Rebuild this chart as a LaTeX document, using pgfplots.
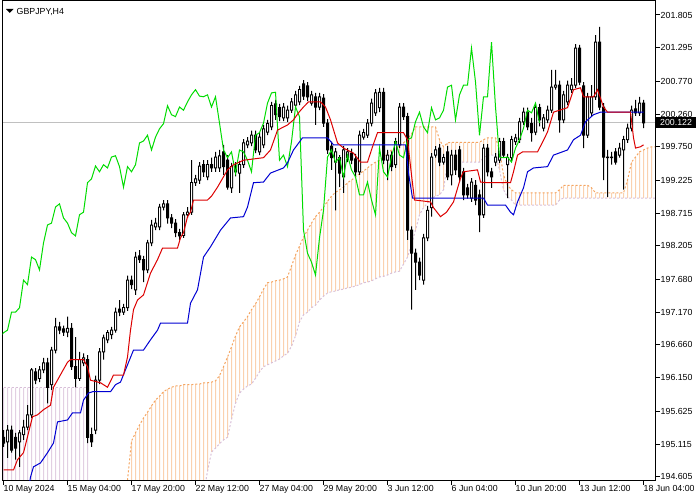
\documentclass[border=0pt]{standalone}
\usepackage{fontspec}
\setmainfont{Liberation Sans}
\usepackage{pgfplots}
\usepackage{pgfplotstable}
\pgfplotsset{compat=1.18}

\definecolor{tenkan}{RGB}{220,0,0}
\definecolor{kijun}{RGB}{0,0,210}
\definecolor{chikou}{RGB}{0,220,0}
\definecolor{sandy}{RGB}{244,164,96}
\definecolor{thistle}{RGB}{216,191,216}
\definecolor{bidline}{RGB}{192,192,192}

% GBPJPY H4 bars, index 0 = first bar on screen
\pgfplotstableread{
i o h l c
0 195.22 195.33 195.07 195.13
1 195.15 195.41 194.90 195.33
2 195.33 195.40 194.98 195.02
3 195.22 195.29 194.87 195.05
4 195.15 195.33 194.76 195.29
5 195.26 195.49 195.18 195.38
6 195.38 195.72 195.33 195.57
7 195.57 196.30 195.52 196.27
8 196.24 196.30 196.05 196.11
9 196.14 196.33 196.08 196.27
10 196.27 196.46 196.22 196.38
11 196.38 196.46 195.75 196.00
12 196.04 196.63 195.96 196.58
13 196.58 197.08 196.53 196.94
14 196.94 197.02 196.83 196.89
15 196.91 196.96 196.80 196.86
16 196.86 197.10 196.78 196.92
17 196.92 197.00 196.27 196.32
18 196.32 196.78 196.00 196.14
19 196.14 196.55 196.10 196.43
20 196.38 196.53 196.33 196.46
21 196.43 196.50 195.13 195.22
22 195.26 195.37 195.07 195.15
23 195.33 196.18 195.27 196.11
24 196.11 196.61 196.05 196.55
25 196.55 196.82 196.43 196.77
26 196.74 196.89 196.69 196.85
27 196.82 196.94 196.75 196.89
28 196.89 197.24 196.85 197.17
29 197.22 197.36 197.11 197.17
30 197.17 197.30 197.13 197.24
31 197.24 197.74 197.19 197.67
32 197.67 197.74 197.53 197.60
33 197.52 198.11 197.44 198.03
34 198.05 198.14 197.94 197.99
35 197.99 198.05 197.64 197.83
36 197.83 198.30 197.78 198.25
37 198.25 198.61 198.20 198.53
38 198.50 198.64 198.45 198.56
39 198.50 198.86 198.45 198.81
40 198.81 198.92 198.76 198.86
41 198.86 198.92 198.55 198.64
42 198.64 198.70 198.48 198.56
43 198.56 198.62 198.34 198.41
44 198.41 198.47 198.30 198.36
45 198.37 198.73 198.33 198.69
46 198.69 198.81 198.64 198.73
47 198.73 199.54 198.69 199.19
48 199.19 199.31 199.14 199.25
49 199.23 199.51 199.17 199.45
50 199.47 199.54 199.28 199.36
51 199.28 199.54 199.23 199.47
52 199.47 199.58 199.36 199.42
53 199.42 199.67 199.36 199.59
54 199.42 199.70 199.36 199.61
55 199.67 199.78 199.31 199.44
56 199.54 199.62 199.08 199.12
57 199.11 199.50 199.03 199.44
58 199.45 199.51 199.29 199.36
59 199.34 199.53 199.03 199.47
60 199.47 199.87 199.42 199.81
61 199.78 199.90 199.73 199.84
62 199.81 200.00 199.76 199.93
63 199.93 200.00 199.65 199.70
64 199.67 199.97 199.62 199.90
65 199.78 200.09 199.73 200.03
66 199.98 200.17 199.93 200.11
67 200.06 200.45 200.01 200.39
68 200.42 200.48 200.17 200.25
69 200.36 200.42 200.15 200.22
70 200.20 200.43 200.15 200.37
71 200.20 200.39 200.14 200.32
72 200.32 200.51 200.28 200.45
73 200.40 200.62 200.36 200.56
74 200.45 200.70 200.40 200.64
75 200.73 200.79 200.48 200.54
76 200.70 200.76 200.46 200.53
77 200.43 200.62 200.39 200.56
78 200.53 200.59 200.09 200.37
79 200.37 200.59 200.32 200.53
80 200.51 200.57 200.06 200.12
81 200.12 200.18 199.64 199.70
82 199.76 199.83 199.39 199.58
83 199.51 199.73 198.76 199.67
84 199.58 199.62 199.12 199.34
85 199.28 199.76 199.03 199.70
86 199.58 199.73 199.51 199.67
87 199.65 199.72 199.48 199.54
88 199.56 199.64 199.29 199.36
89 199.36 200.00 199.31 199.93
90 199.90 200.03 199.86 199.97
91 199.93 200.18 199.89 200.12
92 200.12 200.50 200.07 200.43
93 200.28 200.65 200.23 200.59
94 200.36 200.67 200.29 200.60
95 200.60 200.67 199.48 199.54
96 199.54 199.70 199.23 199.62
97 199.62 199.68 199.37 199.44
98 199.47 199.89 199.42 199.83
99 199.78 200.43 199.73 200.37
100 200.37 200.43 200.17 200.22
101 200.22 200.28 198.30 198.45
102 198.45 198.51 197.21 198.09
103 198.09 198.16 197.52 197.95
104 197.95 198.02 197.67 197.75
105 197.67 198.39 197.60 198.33
106 198.33 198.83 198.28 198.76
107 198.80 199.65 198.66 199.59
108 199.62 199.76 199.58 199.70
109 199.73 199.79 199.45 199.51
110 199.51 199.64 199.47 199.58
111 199.67 199.76 199.23 199.28
112 199.31 199.70 199.15 199.62
113 199.62 199.70 199.31 199.39
114 199.70 199.76 199.20 199.28
115 199.36 199.42 198.92 199.00
116 199.11 199.17 198.94 199.00
117 198.95 199.26 198.89 199.20
118 199.15 199.23 198.84 198.92
119 199.00 199.08 198.42 198.69
120 198.69 199.79 198.64 199.73
121 199.73 199.79 199.29 199.36
122 199.36 199.42 199.11 199.28
123 199.51 199.65 199.45 199.59
124 199.54 199.89 199.50 199.83
125 199.83 199.89 199.58 199.62
126 199.47 199.64 198.95 199.58
127 199.58 199.92 199.53 199.86
128 199.83 199.95 199.78 199.89
129 199.86 200.20 199.81 200.14
130 200.14 200.36 200.09 200.29
131 200.29 200.36 200.01 200.06
132 200.11 200.20 199.83 199.97
133 199.98 200.42 199.93 200.36
134 200.36 200.42 200.07 200.17
135 200.04 200.26 199.99 200.20
136 200.17 200.39 200.12 200.32
137 200.32 200.95 200.28 200.68
138 200.68 200.95 200.64 200.71
139 200.71 200.78 199.97 200.17
140 200.17 200.62 200.12 200.56
141 200.45 200.78 200.40 200.71
142 200.64 200.82 200.59 200.71
143 200.71 201.35 200.67 201.29
144 201.29 201.34 200.71 200.76
145 200.70 200.76 199.73 199.93
146 199.93 200.59 199.89 200.53
147 200.28 200.71 200.23 200.53
148 200.53 201.49 200.48 201.38
149 201.38 201.62 200.32 200.37
150 200.37 200.43 199.23 199.59
151 199.59 199.70 198.97 199.58
152 199.58 199.67 199.47 199.59
153 199.67 199.73 199.47 199.51
154 199.62 199.81 199.58 199.73
155 199.70 199.92 199.08 199.86
156 199.86 200.11 199.81 200.04
157 200.04 200.39 199.99 200.32
158 200.34 200.48 200.23 200.28
159 200.28 200.53 200.23 200.43
160 200.43 200.48 200.04 200.122
}\candles

% Kumo where span A is above span B (a = span A, b = span B)
\pgfplotstableread{
i a b
31 194.55 194.32
32 195.16 194.32
33 195.29 194.32
34 195.41 194.32
35 195.52 194.32
36 195.61 194.32
37 195.71 194.32
38 195.80 194.32
39 195.86 194.32
40 195.93 194.32
41 195.97 194.32
42 196.00 194.32
43 196.02 194.32
44 196.02 194.32
45 196.04 194.32
46 196.04 194.32
47 196.04 194.32
48 196.05 194.32
49 196.05 194.32
50 196.07 194.32
51 196.07 194.69
52 196.08 194.99
53 196.10 195.05
54 196.18 195.12
55 196.32 195.18
56 196.47 195.22
57 196.63 195.50
58 196.80 195.75
59 196.94 195.91
60 197.02 195.97
61 197.10 196.02
62 197.21 196.05
63 197.30 196.14
64 197.41 196.24
65 197.53 196.32
66 197.63 196.35
67 197.64 196.38
68 197.66 196.41
69 197.67 196.44
70 197.69 196.49
71 197.72 196.53
72 197.89 196.64
73 198.06 196.80
74 198.20 197.02
75 198.34 197.13
76 198.45 197.17
77 198.56 197.24
78 198.66 197.28
79 198.73 197.36
80 198.81 197.42
81 198.90 197.47
82 198.98 197.49
83 199.04 197.50
84 199.08 197.52
85 199.12 197.53
86 199.19 197.55
87 199.23 197.56
88 199.28 197.58
89 199.33 197.60
90 199.37 197.63
91 199.42 197.64
92 199.47 197.66
93 199.51 197.69
94 199.54 197.72
95 199.59 197.73
96 199.65 197.75
97 199.70 197.78
98 199.73 197.80
99 199.76 197.81
100 199.81 197.92
101 199.87 198.03
102 199.95 198.23
103 200.06 198.45
104 200.06 198.69
105 200.06 198.80
106 200.06 198.87
107 200.06 198.94
108 200.06 198.98
109 199.86 199.00
110 199.75 199.08
111 199.81 199.51
112 199.82 199.51
113 199.82 199.51
114 199.82 199.51
115 199.82 199.51
116 199.82 199.51
117 199.82 199.51
118 199.82 199.51
119 199.82 199.51
120 199.86 199.58
121 199.89 199.62
122 199.89 199.62
123 199.89 199.62
124 199.70 199.39
125 199.31 199.08
126 199.15 198.97
127 199.08 198.92
128 199.03 198.84
129 199.03 198.84
130 199.03 198.84
131 199.03 198.84
132 199.03 198.84
133 199.03 198.84
134 199.03 198.84
135 199.03 198.84
136 199.03 198.84
137 199.03 198.84
138 199.03 198.84
139 199.08 198.92
140 199.15 198.95
141 199.15 198.95
142 199.15 198.95
143 199.15 198.95
144 199.15 198.95
145 199.15 198.95
146 199.15 198.95
147 199.11 198.95
148 199.03 198.95
149 199.03 198.95
150 199.03 198.95
151 199.03 198.95
152 199.03 198.95
153 199.03 198.95
154 199.03 198.95
155 199.03 198.95
156 199.23 198.95
157 199.51 198.95
158 199.59 198.95
159 199.67 198.95
160 199.70 198.95
161 199.73 198.95
162 199.75 198.95
163 199.75 198.95
164 199.75 198.95
}\kumoup

% Kumo where span B is above span A
\pgfplotstableread{
i a b
-1 194.30 195.99
0 194.30 195.99
1 194.30 195.99
2 194.30 195.99
3 194.30 195.99
4 194.30 195.99
5 194.30 195.99
6 194.30 195.99
7 194.30 195.99
8 194.30 195.99
9 194.30 195.99
10 194.30 195.99
11 194.30 195.99
12 194.30 195.99
13 194.30 195.99
14 194.30 195.99
15 194.30 195.99
16 194.30 195.99
17 194.30 195.99
18 194.30 195.99
19 194.30 195.99
20 194.30 195.99
21 194.30 195.99
}\kumodn

\pgfplotstableread{
i p
0 194.71
2.5 194.71
3.5 194.87
5 194.98
6.25 195.29
7.25 195.54
8.5 195.57
10 195.65
11.75 195.72
12.5 196.00
13.75 196.14
16 196.39
16.75 196.43
20 196.43
21 196.32
21.75 196.11
24.25 196.07
26 196.00
27.5 196.19
30 196.19
31 196.47
31.75 196.89
32.5 197.21
33.5 197.36
35 197.44
36.75 197.78
38.5 197.99
39.75 198.17
43.5 198.17
44.25 198.33
45 198.41
46 198.66
46.75 198.73
47.5 198.92
51 198.92
52 198.98
53.5 199.12
56 199.39
57.5 199.47
60 199.54
65 199.58
66.75 199.70
68.5 200.01
71 200.09
72.5 200.17
73.75 200.28
75 200.37
76.25 200.45
79.25 200.45
80.5 200.37
81.75 200.17
83.5 199.81
85 199.73
87.5 199.65
89.25 199.51
91 199.51
92.25 199.75
93.5 199.97
100 199.97
101 199.86
102 199.31
102.75 198.92
106.75 198.89
107.5 198.80
109.25 198.66
110.75 198.73
112.5 198.89
114.25 199.26
115 199.36
118.5 199.39
119.25 199.20
121 199.19
126.75 199.19
127.5 199.36
128.5 199.62
129.75 199.67
133.5 199.67
134.75 199.82
136 199.98
137.5 200.29
141 200.36
142.5 200.64
144.25 200.67
145 200.53
147.5 200.53
148.5 200.64
150 200.37
151 200.29
156.75 200.29
157.5 199.89
158 199.73
159.25 199.75
160 199.78
}\tenkan

\pgfplotstableread{
i p
6 194.32
6.75 194.60
7.5 194.76
9.25 194.82
11 194.98
12.5 195.13
13.5 195.46
16 195.49
17.25 195.60
19.25 195.60
20 195.80
21.25 195.91
22.25 195.93
26.75 195.93
28 196.04
29.25 196.08
31 196.35
32.5 196.58
35 196.58
36.75 196.74
38.5 196.89
39.25 197.00
46 197.00
46.75 197.31
48.5 197.52
50 198.03
51.75 198.19
54.25 198.45
56.75 198.64
60 198.66
61 198.81
62.5 199.19
65 199.20
66.75 199.34
70 199.42
71 199.50
72.5 199.70
74.75 199.89
81 199.89
82.5 199.78
100.5 199.78
101.25 199.34
102.25 198.95
120 198.95
121 198.84
125.5 198.84
126.75 198.73
127.5 198.69
128.5 198.89
130 199.11
131 199.36
132.5 199.42
136 199.44
137.5 199.62
141 199.70
142.5 199.86
144.25 199.93
145.5 200.14
147.5 200.25
149.25 200.29
160 200.29
}\kijun

\pgfplotsset{
  chartbox/.style={scale only axis, width=653pt, height=480pt,
    xmin=-0.25, xmax=163, ymin=194.546, ymax=202.031},
  layer/.style={chartbox, hide axis, ybar stacked, bar width=#1},
}

\begin{document}
\begin{tikzpicture}
% kumo columns: invisible base up to the lower span, coloured part up to the upper span
\begin{axis}[layer=1pt]
\addplot[draw=none, fill=none] table[x=i, y=b] {\kumoup};
\addplot[draw=none, fill=sandy!50] table[x=i, y expr=\thisrow{a}-\thisrow{b}] {\kumoup};
\end{axis}
\begin{axis}[layer=1pt]
\addplot[draw=none, fill=none] table[x=i, y=a] {\kumodn};
\addplot[draw=none, fill=thistle!75] table[x=i, y expr=\thisrow{b}-\thisrow{a}] {\kumodn};
\end{axis}
% span lines and bid line
\begin{axis}[chartbox, hide axis]
\addplot[sandy, line width=1pt, dash pattern=on 2pt off 2pt] table[x=i, y=a] {\kumoup};
\addplot[thistle, line width=1pt, dash pattern=on 2pt off 2pt] table[x=i, y=b] {\kumoup};
\addplot[thistle, line width=1pt, dash pattern=on 2pt off 2pt] table[x=i, y=b] {\kumodn};
\addplot[bidline, line width=1pt] coordinates {(-1,200.122) (165,200.122)};
\end{axis}
% candle wicks
\begin{axis}[layer=1pt]
\addplot[draw=none, fill=none] table[x=i, y=l] {\candles};
\addplot[draw=none, fill=black] table[x=i, y expr=\thisrow{h}-\thisrow{l}] {\candles};
\end{axis}
% candle bodies
\begin{axis}[layer=3pt]
\addplot[draw=none, fill=none] table[x=i, y expr={min(\thisrow{o},\thisrow{c})-0.0078}] {\candles};
\addplot[draw=none, fill=black] table[x=i, y expr={abs(\thisrow{o}-\thisrow{c})+0.0156}] {\candles};
\end{axis}
% hollow centre of rising candles
\begin{axis}[layer=1pt]
\addplot[draw=none, fill=none] table[x=i, y expr={\thisrow{o}+0.0078}] {\candles};
\addplot[draw=none, fill=white] table[x=i, y expr={max(\thisrow{c}-\thisrow{o}-0.0156,0)}] {\candles};
\end{axis}
% main axis with ichimoku lines
\begin{axis}[
    chartbox,
    name=ax,
    axis line style={line width=1pt},
    tick style={line width=1pt, black},
    major tick length=4pt,
    tick align=outside,
    xtick pos=left, ytick pos=right,
    xticklabel pos=left, yticklabel pos=right,
    xtick={0,16,...,160},
    xticklabels={10 May 2024,15 May 04:00,17 May 20:00,22 May 12:00,27 May 04:00,29 May 20:00,3 Jun 12:00,6 Jun 04:00,10 Jun 20:00,13 Jun 12:00,18 Jun 04:00},
    ytick={201.805,201.295,200.770,200.260,199.750,199.225,198.715,198.205,197.680,197.170,196.660,196.150,195.625,195.115,194.605},
    yticklabels={201.805,201.295,200.770,200.260,199.750,199.225,198.715,198.205,197.680,197.170,196.660,196.150,195.625,195.115,194.605},
    ticklabel style={font=\fontsize{8.8}{10}\selectfont},
    xticklabel style={anchor=north west, inner xsep=0pt, inner ysep=1pt},
    yticklabel style={anchor=west, inner sep=1pt},
]
\addplot[chikou, line width=1pt] table[x expr=\thisrow{i}-26, y=c] {\candles};
\addplot[kijun, line width=1pt] table[x=i, y=p] {\kijun};
\addplot[tenkan, line width=1pt] table[x=i, y=p] {\tenkan};
\coordinate (bid) at (axis cs:163,200.122);
\end{axis}
\node[fill=black, text=white, anchor=west, inner xsep=4pt, inner ysep=0pt,
  minimum height=11pt, font=\fontsize{8.8}{10}\selectfont] at ([xshift=0.5pt]bid) {200.122};
\fill ([xshift=3.5pt,yshift=-8.5pt]ax.north west) -- ++(7.5pt,0) -- ++(-3.75pt,-4pt) -- cycle;
\node[anchor=west, inner sep=0pt, font=\fontsize{8.8}{10}\selectfont]
  at ([xshift=14pt,yshift=-11pt]ax.north west) {GBPJPY,H4};
\path ([xshift=-2.5pt,yshift=-19.5pt]ax.south west) rectangle ++(700pt,500pt);
\end{tikzpicture}
\end{document}
